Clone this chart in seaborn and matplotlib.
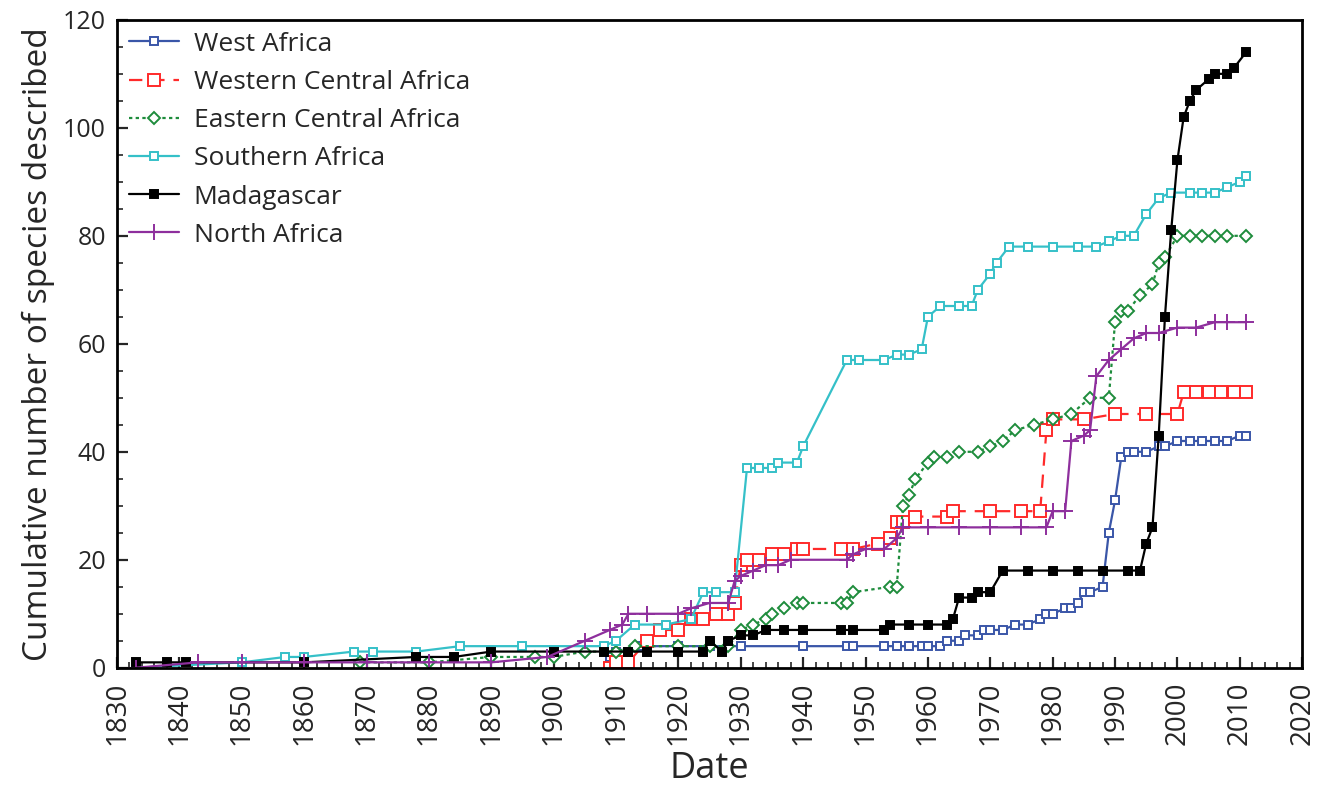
import seaborn as sns
import pandas as pd
import matplotlib.pyplot as plt
from matplotlib.ticker import MultipleLocator

# cumulative number of species described per region
west_years = [1909, 1910, 1912, 1914, 1920, 1925, 1930, 1940, 1947, 1948, 1953, 1955, 1957, 1959, 1960,
              1962, 1963, 1965, 1966, 1968, 1969, 1970, 1972, 1974, 1976, 1978, 1979, 1980, 1982, 1983,
              1984, 1985, 1986, 1988, 1989, 1990, 1991, 1992, 1993, 1995, 1997, 1998, 2000, 2002, 2004,
              2006, 2008, 2010, 2011]
west_counts = [2, 3, 3, 4, 4, 4, 4, 4, 4, 4, 4, 4, 4, 4, 4,
               4, 5, 5, 6, 6, 7, 7, 7, 8, 8, 9, 10, 10, 11, 11,
               12, 14, 14, 15, 25, 31, 39, 40, 40, 40, 41, 41, 42, 42, 42,
               42, 42, 43, 43]

wca_years = [1909, 1910, 1912, 1915, 1917, 1920, 1922, 1924, 1926, 1928, 1929, 1930, 1931, 1933, 1935,
             1937, 1939, 1940, 1946, 1948, 1952, 1954, 1955, 1956, 1958, 1963, 1964, 1970, 1975, 1978,
             1979, 1980, 1985, 1990, 1995, 2000, 2001, 2003, 2005, 2007, 2009, 2011]
wca_counts = [0, 1, 1, 5, 7, 7, 9, 9, 10, 10, 12, 19, 20, 20, 21,
              21, 22, 22, 22, 22, 23, 24, 27, 27, 28, 28, 29, 29, 29, 29,
              44, 46, 46, 47, 47, 47, 51, 51, 51, 51, 51, 51]

eca_years = [1869, 1880, 1890, 1897, 1900, 1905, 1910, 1913, 1920, 1925, 1928, 1930, 1932, 1934, 1935,
             1937, 1939, 1940, 1946, 1947, 1948, 1954, 1955, 1956, 1957, 1958, 1960, 1961, 1963, 1965,
             1968, 1970, 1972, 1974, 1977, 1980, 1983, 1986, 1989, 1990, 1991, 1992, 1994, 1996, 1997,
             1998, 2000, 2002, 2004, 2006, 2008, 2011]
eca_counts = [1, 1, 2, 2, 2, 3, 3, 4, 4, 4, 4, 7, 8, 9, 10,
              11, 12, 12, 12, 12, 14, 15, 15, 30, 32, 35, 38, 39, 39, 40,
              40, 41, 42, 44, 45, 46, 47, 50, 50, 64, 66, 66, 69, 71, 75,
              76, 80, 80, 80, 80, 80, 80]

sa_years = [1833, 1850, 1857, 1860, 1868, 1871, 1878, 1885, 1895, 1908, 1910, 1913, 1918, 1922, 1924,
            1926, 1929, 1931, 1933, 1935, 1936, 1939, 1940, 1947, 1949, 1953, 1955, 1957, 1959, 1960,
            1962, 1965, 1967, 1968, 1970, 1971, 1973, 1976, 1980, 1984, 1987, 1989, 1991, 1993, 1995,
            1997, 1999, 2002, 2004, 2006, 2008, 2010, 2011]
sa_counts = [0, 1, 2, 2, 3, 3, 3, 4, 4, 4, 5, 8, 8, 9, 14,
             14, 14, 37, 37, 37, 38, 38, 41, 57, 57, 57, 58, 58, 59, 65,
             67, 67, 67, 70, 73, 75, 78, 78, 78, 78, 78, 79, 80, 80, 84,
             87, 88, 88, 88, 88, 89, 90, 91]

mad_years = [1833, 1838, 1841, 1860, 1878, 1884, 1890, 1900, 1908, 1912, 1915, 1920, 1924, 1925, 1927,
             1928, 1930, 1932, 1934, 1937, 1940, 1946, 1948, 1953, 1954, 1957, 1960, 1963, 1964, 1965,
             1967, 1968, 1970, 1972, 1976, 1980, 1984, 1988, 1992, 1994, 1995, 1996, 1997, 1998, 1999,
             2000, 2001, 2002, 2003, 2005, 2006, 2008, 2009, 2011]
mad_counts = [1, 1, 1, 1, 2, 2, 3, 3, 3, 3, 3, 3, 3, 5, 3,
              5, 6, 6, 7, 7, 7, 7, 7, 7, 8, 8, 8, 8, 9, 13,
              13, 14, 14, 18, 18, 18, 18, 18, 18, 18, 23, 26, 43, 65, 81,
              94, 102, 105, 107, 109, 110, 110, 111, 114]

na_years = [1833, 1843, 1850, 1860, 1870, 1880, 1890, 1899, 1905, 1909, 1911, 1912, 1915, 1920, 1922,
            1925, 1928, 1929, 1930, 1932, 1934, 1936, 1938, 1947, 1948, 1950, 1953, 1955, 1956, 1960,
            1965, 1970, 1975, 1979, 1980, 1982, 1983, 1985, 1986, 1987, 1989, 1991, 1993, 1995, 1997,
            2000, 2003, 2006, 2008, 2011]
na_counts = [0, 1, 1, 1, 1, 1, 1, 2, 5, 7, 8, 10, 10, 10, 11,
             12, 12, 16, 17, 18, 19, 19, 20, 20, 21, 22, 22, 24, 26, 26,
             26, 26, 26, 26, 29, 29, 42, 43, 44, 54, 57, 59, 61, 62, 62,
             63, 63, 64, 64, 64]

series = [
    ('West Africa', west_years, west_counts),
    ('Western Central Africa', wca_years, wca_counts),
    ('Eastern Central Africa', eca_years, eca_counts),
    ('Southern Africa', sa_years, sa_counts),
    ('Madagascar', mad_years, mad_counts),
    ('North Africa', na_years, na_counts),
]

styles = {
    'West Africa': dict(color='#3a56a8', marker='s', ms=5.5, mfc='white', ls='-'),
    'Western Central Africa': dict(color='#ff2a2a', marker='s', ms=8, mfc='white', ls=(0, (6, 4))),
    'Eastern Central Africa': dict(color='#1e8c3c', marker='D', ms=6.5, mfc='white', ls=(0, (1.5, 1.5))),
    'Southern Africa': dict(color='#35c0c8', marker='s', ms=6, mfc='white', ls='-'),
    'Madagascar': dict(color='black', marker='s', ms=5.5, mfc='black', ls='-'),
    'North Africa': dict(color='#8e2f9d', marker='+', ms=11, ls='-'),
}

sns.set_style('ticks')
plt.rcParams['font.family'] = ['Open Sans', 'DejaVu Sans']

fig, ax = plt.subplots(figsize=(13.22, 7.94), dpi=100)
fig.subplots_adjust(left=0.0885, right=0.985, bottom=0.159, top=0.975)

for name, years, counts in series:
    st = styles[name]
    df = pd.DataFrame({'year': years, 'count': counts})
    sns.lineplot(data=df, x='year', y='count', ax=ax, estimator=None, sort=False,
                 lw=1.6, label=name, mec=st['color'], mew=1.4, **st)

ax.set_xlim(1830, 2020)
ax.set_ylim(0, 120)
ax.xaxis.set_major_locator(MultipleLocator(10))
ax.xaxis.set_minor_locator(MultipleLocator(2))
ax.yaxis.set_major_locator(MultipleLocator(20))
ax.yaxis.set_minor_locator(MultipleLocator(5))
ax.tick_params(which='major', direction='in', length=8, width=1.6, labelsize=18)
ax.tick_params(axis='x', which='major', labelsize=20, pad=10, labelrotation=90)
ax.tick_params(axis='y', which='major', pad=8)
ax.tick_params(which='minor', direction='in', length=4, width=1.2)
for sp in ax.spines.values():
    sp.set_linewidth(2)
    sp.set_color('black')

ax.set_xlabel('Date', fontsize=26, labelpad=4)
ax.set_ylabel('Cumulative number of species described', fontsize=24, labelpad=6)

ax.legend(loc='upper left', frameon=False, fontsize=19, handlelength=1.9,
          labelspacing=0.5, borderaxespad=0.05, handletextpad=0.55)

plt.savefig('out.png', dpi=100)
